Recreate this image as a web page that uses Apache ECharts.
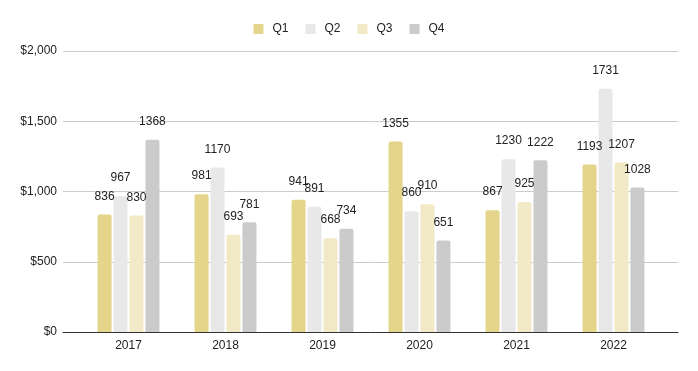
<!DOCTYPE html>
<html>
<head>
<meta charset="utf-8">
<script src="https://cdn.jsdelivr.net/npm/echarts@6/dist/echarts.min.js"></script>
<style>html,body{margin:0;padding:0;background:#fff;}#c{width:698px;height:371px;}</style>
</head>
<body>
<div id="c"></div>
<script>
const categories = ['2017', '2018', '2019', '2020', '2021', '2022'];
const seriesNames = ['Q1', 'Q2', 'Q3', 'Q4'];
const q1 = [836, 981, 941, 1355, 867, 1193];
const q2 = [967, 1170, 891, 860, 1230, 1731];
const q3 = [830, 693, 668, 910, 925, 1207];
const q4 = [1368, 781, 734, 651, 1222, 1028];
const yTicks = [0, 500, 1000, 1500, 2000];
const colors = ['#e5d58b', '#e8e8e8', '#f2eac6', '#cbcbcb'];

const values = [q1, q2, q3, q4];
const font = 'Arial, "Liberation Sans", sans-serif';
const chart = echarts.init(document.getElementById('c'), null, {renderer: 'canvas'});
const yMin = yTicks[0], yMax = yTicks[yTicks.length - 1], yStep = yTicks[1] - yTicks[0];

chart.setOption({
  animation: false,
  backgroundColor: '#fff',
  legend: {
    top: 18,
    left: 'center',
    itemWidth: 10,
    itemHeight: 10,
    itemGap: 17,
    icon: 'rect',
    textStyle: {fontFamily: font, fontSize: 12, color: '#222', padding: [0, 0, 0, 4]},
    data: seriesNames
  },
  grid: [
    {left: 63, right: 20, top: 51, bottom: 39, containLabel: false},
    {left: 80, right: 36, top: 51, bottom: 39, containLabel: false}
  ],
  xAxis: [
    {gridIndex: 0, type: 'category', data: categories, axisLine: {show: true, lineStyle: {color: '#333', width: 1}},
     axisTick: {show: false}, axisLabel: {show: false}, splitLine: {show: false}},
    {gridIndex: 1, type: 'category', data: categories, axisLine: {show: false}, axisTick: {show: false},
     axisLabel: {fontFamily: font, fontSize: 12, color: '#222', margin: 8}}
  ],
  yAxis: [
    {gridIndex: 0, type: 'value', min: yMin, max: yMax, interval: yStep,
     axisLine: {show: false}, axisTick: {show: false},
     axisLabel: {fontFamily: font, fontSize: 12, color: '#222', margin: 6,
       formatter: v => '$' + v.toLocaleString('en-US')},
     splitLine: {lineStyle: {color: '#cccccc', width: 1}}},
    {gridIndex: 1, type: 'value', min: yMin, max: yMax, interval: yStep,
     axisLine: {show: false}, axisTick: {show: false}, axisLabel: {show: false}, splitLine: {show: false}}
  ],
  series: seriesNames.map((name, i) => ({
    name: name,
    type: 'bar',
    xAxisIndex: 1,
    yAxisIndex: 1,
    data: values[i],
    barWidth: 14,
    barGap: '14%',
    itemStyle: {color: colors[i], borderRadius: [2, 2, 0, 0]},
    label: {show: true, position: 'top', distance: 12, fontFamily: font, fontSize: 12, color: '#222'}
  }))
});
</script>
</body>
</html>
